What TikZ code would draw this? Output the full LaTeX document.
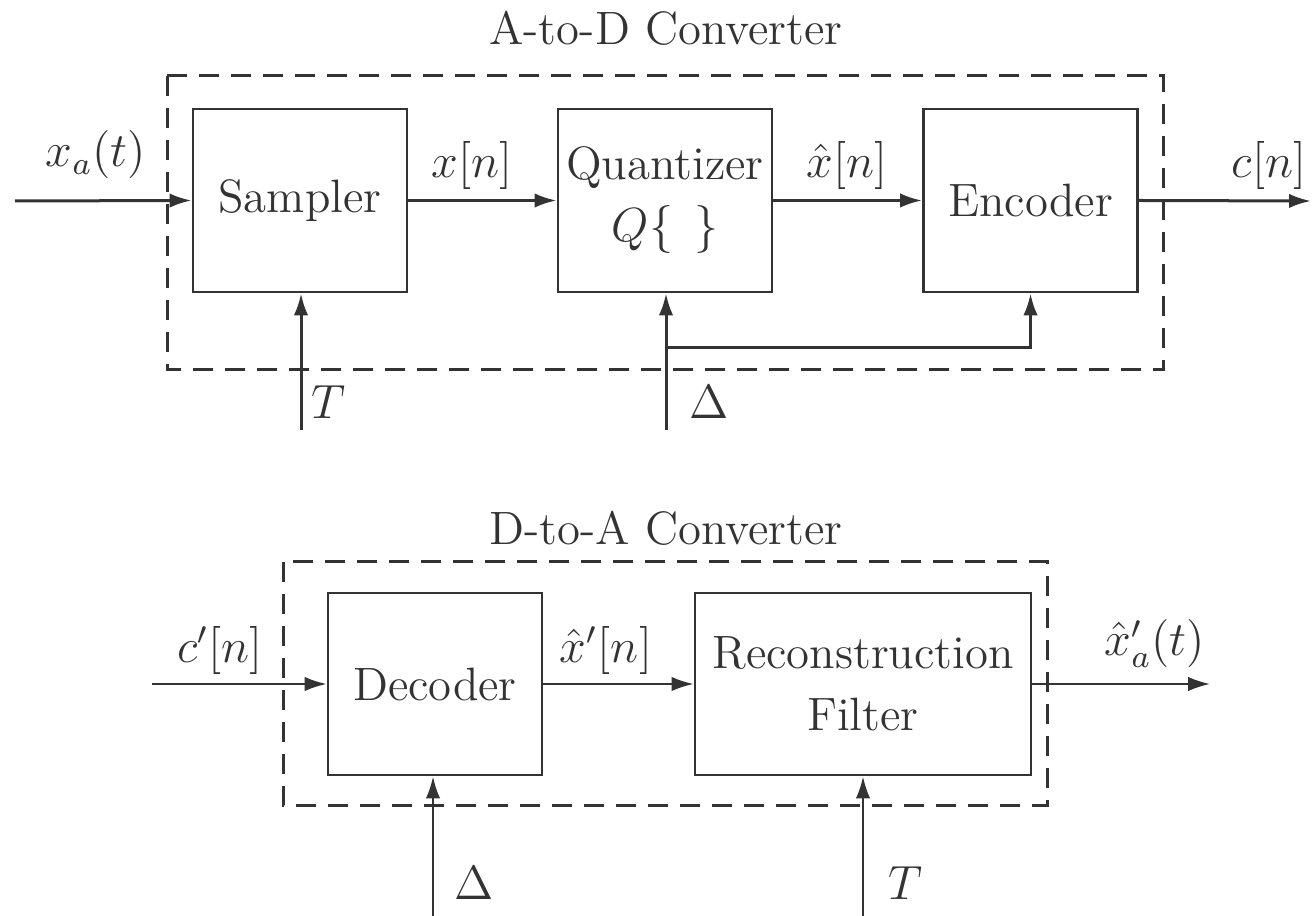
\documentclass[tikz,border=0pt]{standalone}
\usetikzlibrary{arrows.meta}
\definecolor{ink}{HTML}{333333}
\tikzset{
  blk/.style={draw=ink, line width=0.7pt, align=center, inner sep=0pt, text=ink},
  sig/.style={draw=ink, line width=0.75pt, -{Latex[length=5.5pt,width=3.6pt]}},
  thinsig/.style={sig, line width=0.5pt},
  frame/.style={draw=ink, line width=0.75pt, dash pattern=on 5pt off 3pt},
  lbl/.style={text=ink, inner sep=0pt, anchor=base},
}
\begin{document}
\begin{tikzpicture}[x=0.25pt, y=-0.25pt, font=\fontsize{11.7}{15.5}\selectfont]
\useasboundingbox (0,0) rectangle (1313,916);

% ---------- A-to-D converter ----------
\node[lbl] (adtitle) at (666,45) {A-to-D Converter};
\draw[frame] (167,76) rectangle (1163,370);

\node[blk, minimum width=53.5pt, minimum height=45.75pt] (samp)  at (300,200.5)  {Sampler};
\node[blk, minimum width=53.5pt, minimum height=45.75pt] (quant) at (665,200.5)  {Quantizer\\$Q\{\hspace{0.45em}\}$};
\node[blk, minimum width=53.5pt, minimum height=45.75pt] (enc)   at (1030.5,200.5) {Encoder};

\coordinate (xin)  at (15,201);
\coordinate (cout) at (1311,201);
\coordinate (Tin)  at (301,430);
\coordinate (Din)  at (666,430);
\coordinate (br)   at (666,348);

\draw[sig] (xin) -- (samp.west);
\draw[sig] (samp.east) -- (quant.west);
\draw[sig] (quant.east) -- (enc.west);
\draw[sig] (enc.east) -- (cout);
\draw[sig] (Tin) -- (Tin |- samp.south);
\draw[sig] (Din) -- (Din |- quant.south);
\draw[sig] (br) -| (enc.south);

\node[lbl] (lxa) at (96,167)   {$x_a(t)$};
\node[lbl] (lx)  at (472,178)  {$x[n]$};
\node[lbl] (lxh) at (847,178)  {$\hat{x}[n]$};
\node[lbl] (lc)  at (1269,178) {$c[n]$};
\node[lbl] (lT)  at (329,419)  {$T$};
\node[lbl] (lD)  at (709,419)  {$\Delta$};

% ---------- D-to-A converter ----------
\node[lbl] (datitle) at (666,545) {D-to-A Converter};
\draw[frame] (283,562) rectangle (1047,805);

\node[blk, minimum width=53.5pt, minimum height=45.5pt] (dec) at (435,684) {Decoder};
\node[blk, minimum width=84pt,   minimum height=45.5pt] (rec) at (863,684) {Reconstruction\\Filter};

\coordinate (cin)  at (152,684);
\coordinate (xout) at (1210,684);
\coordinate (Din2) at (433,916);
\coordinate (Tin2) at (863,916);

\draw[thinsig] (cin) -- (dec.west);
\draw[thinsig] (dec.east) -- (rec.west);
\draw[thinsig] (rec.east) -- (xout);
\draw[sig, line width=0.6pt] (Din2) -- (Din2 |- dec.south);
\draw[sig, line width=0.6pt] (Tin2) -- (rec.south);

\node[lbl] (lcp)  at (220,662)  {$c'[n]$};
\node[lbl] (lxhp) at (606,662)  {$\hat{x}'[n]$};
\node[lbl] (lxao) at (1155,656) {$\hat{x}'_a(t)$};
\node[lbl] (lD2)  at (474,899)  {$\Delta$};
\node[lbl] (lT2)  at (906,899)  {$T$};
\end{tikzpicture}
\end{document}
